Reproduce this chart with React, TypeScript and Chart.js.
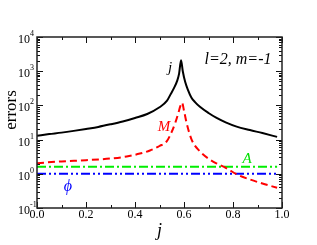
import { useEffect, useRef } from 'react';
import { Chart, registerables } from 'chart.js';

Chart.register(...registerables);

const jBlack = [0, 0.05, 0.1, 0.15, 0.2, 0.25, 0.3, 0.35, 0.4, 0.45, 0.5, 0.53, 0.545, 0.56, 0.572, 0.58, 0.588, 0.595, 0.605, 0.616, 0.63, 0.645, 0.665, 0.7, 0.733, 0.77, 0.815, 0.869, 0.92, 0.98];
const errBlack = [13, 14.5, 16, 18, 20.5, 23.5, 28, 34, 43, 56, 88, 135, 210, 330, 520, 850, 2100, 1000, 480, 285, 170, 125, 91, 60, 43, 32, 24, 19, 15.5, 12];

const jM = [0, 0.1, 0.2, 0.3, 0.366, 0.42, 0.461, 0.5, 0.53, 0.55, 0.565, 0.577, 0.585, 0.592, 0.6, 0.611, 0.631, 0.665, 0.706, 0.74, 0.77, 0.82, 0.87, 0.92, 0.98];
const errM = [2.05, 2.3, 2.5, 2.8, 3.2, 3.9, 4.8, 6.5, 9, 17, 32, 60, 95, 120, 70, 30, 10, 4.5, 2.6, 1.9, 1.5, 0.93, 0.68, 0.52, 0.39];

const jFlat = [0, 0.98];
const errA = [1.6, 1.6];
const errPhi = [1.0, 1.0];

const xTickValues = [0, 0.2, 0.4, 0.6, 0.8, 1.0];
const xTickLabels = ['0.0', '0.2', '0.4', '0.6', '0.8', '1.0'];
const xMinorValues = [0.1, 0.3, 0.5, 0.7, 0.9];
const yExponents = [-1, 0, 1, 2, 3, 4];
const yExponentLabels = ['-1', '0', '1', '2', '3', '4'];
const yMinorMultipliers = [2, 3, 4, 5, 6, 7, 8, 9];

const FONT = '"Liberation Serif", "Times New Roman", serif';

const pts = (xs: number[], ys: number[]) => xs.map((x, i) => ({ x, y: ys[i] }));

const framePlugin = {
  id: 'frame',
  afterDatasetsDraw(chart: any) {
    const { ctx, chartArea: a, scales } = chart;
    const x = scales.x;
    const y = scales.y;
    ctx.save();
    const line = (x1: number, y1: number, x2: number, y2: number) => {
      ctx.beginPath();
      ctx.moveTo(x1, y1);
      ctx.lineTo(x2, y2);
      ctx.stroke();
    };
    ctx.strokeStyle = '#111';
    ctx.lineWidth = 1;
    xTickValues.forEach((v) => {
      const px = Math.round(x.getPixelForValue(v)) + 0.5;
      line(px, a.bottom, px, a.bottom - 6);
      line(px, a.top, px, a.top + 6);
    });
    xMinorValues.forEach((v) => {
      const px = Math.round(x.getPixelForValue(v)) + 0.5;
      line(px, a.bottom, px, a.bottom - 3);
      line(px, a.top, px, a.top + 3);
    });
    yExponents.forEach((e) => {
      const py = Math.round(y.getPixelForValue(Math.pow(10, e))) + 0.5;
      line(a.left, py, a.left + 6, py);
      line(a.right, py, a.right - 6, py);
      if (e < 4) {
        yMinorMultipliers.forEach((m) => {
          const pm = Math.round(y.getPixelForValue(m * Math.pow(10, e))) + 0.5;
          line(a.left, pm, a.left + 3, pm);
          line(a.right, pm, a.right - 3, pm);
        });
      }
    });
    ctx.lineWidth = 1.5;
    ctx.strokeStyle = '#222';
    ctx.strokeRect(a.left, a.top, a.right - a.left, a.bottom - a.top);

    ctx.fillStyle = '#000';
    ctx.font = `12px ${FONT}`;
    ctx.textAlign = 'center';
    ctx.textBaseline = 'top';
    xTickValues.forEach((v, i) => {
      ctx.fillText(xTickLabels[i], x.getPixelForValue(v), a.bottom + 1);
    });
    yExponents.forEach((e, i) => {
      const py = y.getPixelForValue(Math.pow(10, e));
      ctx.font = `12px ${FONT}`;
      ctx.textAlign = 'right';
      ctx.textBaseline = 'alphabetic';
      ctx.fillText('10', a.left - 7, py + 6);
      ctx.font = `8px ${FONT}`;
      ctx.textAlign = 'left';
      ctx.fillText(yExponentLabels[i], a.left - 7, py - 1);
    });

    ctx.font = `italic 18px ${FONT}`;
    ctx.textAlign = 'center';
    ctx.textBaseline = 'middle';
    ctx.fillText('j', (a.left + a.right) / 2, 231);
    ctx.save();
    ctx.translate(12, 110);
    ctx.rotate(-Math.PI / 2);
    ctx.font = `17px ${FONT}`;
    ctx.fillText('errors', 0, 0);
    ctx.restore();

    ctx.font = `italic 16px ${FONT}`;
    ctx.fillStyle = '#000';
    ctx.fillText('l=2, m=-1', 238, 60);
    ctx.font = `italic 15px ${FONT}`;
    ctx.fillText('j', 170, 68);
    ctx.fillStyle = '#ff0000';
    ctx.fillText('M', 164, 127);
    ctx.fillStyle = '#00e000';
    ctx.fillText('A', 247, 159);
    ctx.fillStyle = '#0000ff';
    ctx.font = `italic 16px ${FONT}`;
    ctx.fillText('ϕ', 68, 187);
    ctx.restore();
  },
};

export default function App() {
  const ref = useRef<HTMLCanvasElement | null>(null);
  useEffect(() => {
    document.body.style.margin = '0';
    const canvas = ref.current;
    if (!canvas) return;
    const chart = new Chart(canvas, {
      type: 'line',
      data: {
        datasets: [
          {
            data: pts(jBlack, errBlack),
            borderColor: '#000000',
            borderWidth: 2,
            pointRadius: 0,
            cubicInterpolationMode: 'monotone',
          },
          {
            data: pts(jM, errM),
            borderColor: '#ff0000',
            borderWidth: 2,
            borderDash: [7, 4],
            pointRadius: 0,
            cubicInterpolationMode: 'monotone',
          },
          {
            data: pts(jFlat, errA),
            borderColor: '#00ee00',
            borderWidth: 2,
            borderDash: [9, 3, 2, 3],
            pointRadius: 0,
          },
          {
            data: pts(jFlat, errPhi),
            borderColor: '#0000ff',
            borderWidth: 2,
            borderDash: [9, 3, 2, 3, 2, 3],
            pointRadius: 0,
          },
        ],
      },
      options: {
        animation: false,
        responsive: false,
        devicePixelRatio: 1,
        layout: { padding: { left: 37, top: 37, right: 35, bottom: 37 } },
        plugins: { legend: { display: false }, tooltip: { enabled: false } },
        scales: {
          x: { type: 'linear', min: 0, max: 1, display: false },
          y: { type: 'logarithmic', min: 0.1, max: 10000, display: false },
        },
      },
      plugins: [framePlugin],
    } as any);
    return () => chart.destroy();
  }, []);
  return <canvas ref={ref} width={317} height={245} style={{ display: 'block', width: 317, height: 245 }} />;
}
